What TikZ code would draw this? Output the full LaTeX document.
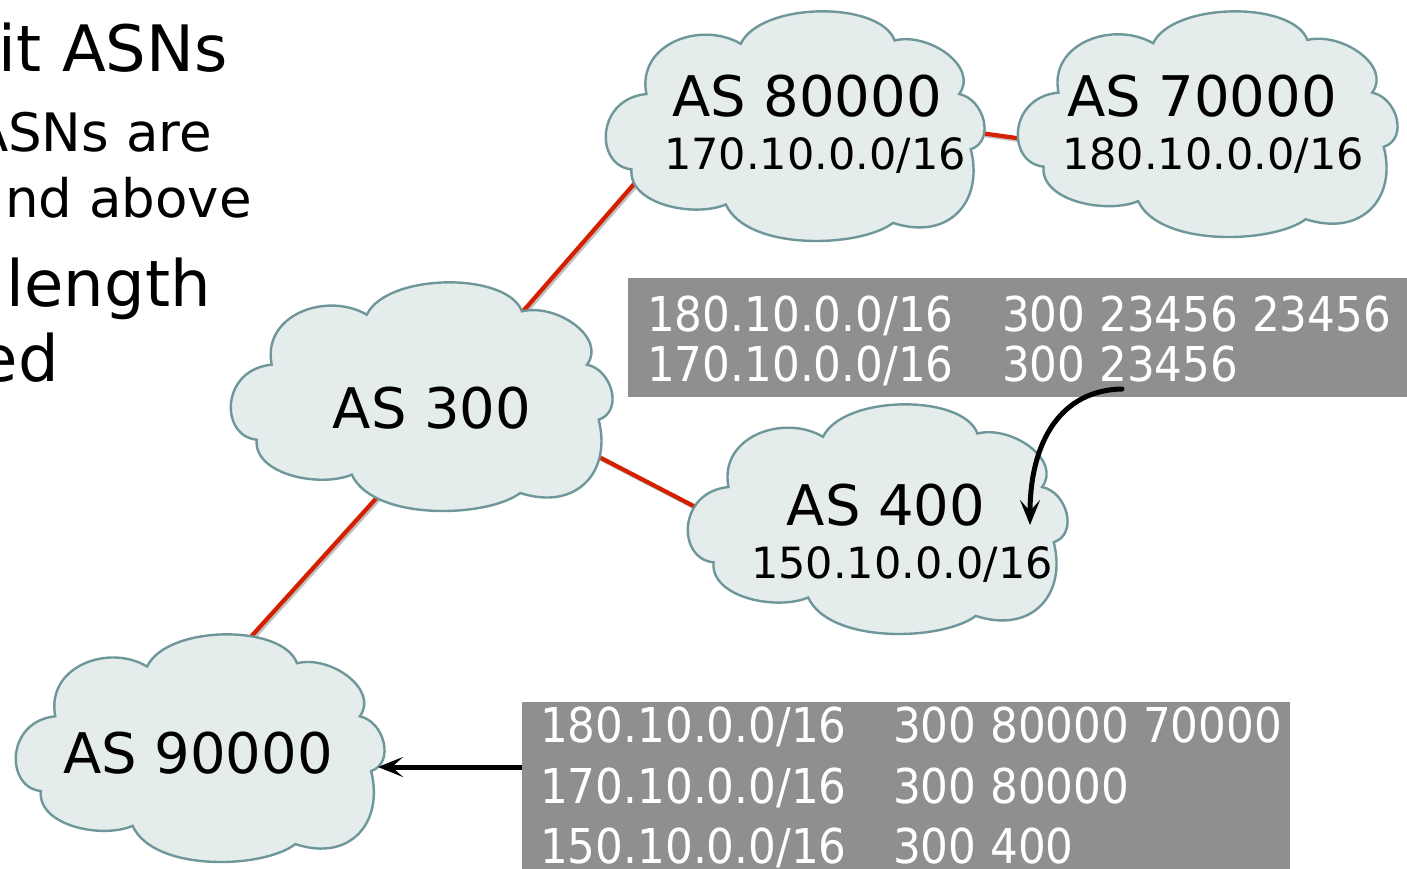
\documentclass[tikz,border=0pt]{standalone}
\usepackage{fontspec}
\setmainfont{DejaVu Sans}
\newfontfamily\condfont[FakeStretch=0.91]{DejaVu Sans}
\usetikzlibrary{shapes.geometric,arrows.meta,backgrounds}
\definecolor{cloudfill}{HTML}{E4ECEC}
\definecolor{clouddraw}{HTML}{6F979B}
\definecolor{linkred}{HTML}{D42000}
\definecolor{boxgray}{HTML}{8F8F8F}
% eight-lobed cloud outline; #1,#2 = top-left corner, #3 x #4 = size
\newcommand\refcloud[4]{%
  \begin{scope}[shift={(#1,#2)}, xscale=#3/1148, yscale=#4/687, shift={(-30,-25)}]
  \path[cloudline] (440,120)
    .. controls (500,-5) and (860,-10) .. (905,110)
    .. controls (1010,85) and (1160,190) .. (1100,270)
    .. controls (1175,285) and (1210,410) .. (1135,435)
    .. controls (1175,590) and (1070,710) .. (900,655)
    .. controls (800,730) and (460,740) .. (395,600)
    .. controls (300,640) and (100,600) .. (110,495)
    .. controls (0,485) and (0,285) .. (155,270)
    .. controls (125,120) and (320,50) .. (440,120)
    -- cycle;
  \end{scope}}
\begin{document}
\begin{tikzpicture}[x=1pt,y=-1pt,
  cloudline/.style={fill=cloudfill, draw=clouddraw, line width=2.4pt, line join=miter},
  cloudbox/.style={ellipse, draw=none, inner sep=0pt},
  link/.style={draw=linkred, line width=4.2pt, shorten <=-30pt, shorten >=-30pt},
  linkshadow/.style={draw=black!25, line width=4.2pt, shorten <=-30pt, shorten >=-30pt, transform canvas={shift={(1.8pt,-1.8pt)}}},
  astext/.style={font=\fontsize{56}{60}\selectfont, anchor=base, inner sep=0pt},
  nettext/.style={font=\fontsize{43}{48}\selectfont, anchor=base, inner sep=0pt},
  hugetext/.style={font=\fontsize{64}{70}\selectfont, anchor=base east, inner sep=0pt},
  bodytext/.style={font=\fontsize{53}{58}\selectfont, anchor=base east, inner sep=0pt},
  tbl/.style={font=\condfont\fontsize{48}{52}\selectfont, text=white, anchor=base west, inner sep=0pt},
  graybox/.style={fill=boxgray, draw=none},
  arr/.style={draw=black, line width=5pt, -{Stealth[length=25pt,width=20pt,inset=11pt]}}]
\useasboundingbox (0,0) rectangle (1407,869);

% slide text (cut off at left)
\node[hugetext] (t1) at (228,72) {it ASNs};
\node[bodytext] (t2) at (212,152) {ASNs are};
\node[bodytext] (t3) at (252,217) {and above};
\node[hugetext] (t4) at (211,306) {length};
\node[hugetext] (t5) at (59,381) {ed};

% cloud anchors (centre and size of each cloud)
\node[cloudbox, minimum width=380pt, minimum height=230pt] (as80000) at (795,127) {};
\node[cloudbox, minimum width=381pt, minimum height=226pt] (as70000) at (1207.5,125) {};
\node[cloudbox, minimum width=383pt, minimum height=229pt] (as300) at (421.5,397.5) {};
\node[cloudbox, minimum width=381pt, minimum height=230pt] (as400) at (877.5,520) {};
\node[cloudbox, minimum width=370pt, minimum height=228pt] (as90000) at (200,749) {};

% links behind the clouds
\begin{scope}[on background layer]
\fill[white] (0,0) rectangle (1407,869);
\draw[linkshadow] (as300.41) -- (as80000.200);
\draw[linkshadow] (as80000.-2) -- (as70000.184);
\draw[linkshadow] (as300.-18) -- (as400.175);
\draw[linkshadow] (as300.244) -- (as90000.66);
\draw[link] (as300.41) -- (as80000.200);
\draw[link] (as80000.-2) -- (as70000.184);
\draw[link] (as300.-18) -- (as400.175);
\draw[link] (as300.244) -- (as90000.66);
\end{scope}

% cloud outlines
\refcloud{605}{12}{380}{230}
\refcloud{1017}{12}{381}{226}
\refcloud{230}{283}{383}{229}
\refcloud{687}{405}{381}{230}
\refcloud{15}{635}{370}{228}

% cloud labels
\node[astext] (l80000) at (807,117) {AS 80000};
\node[nettext] (n80000) at (815,170) {170.10.0.0/16};
\node[astext] (l70000) at (1202,117) {AS 70000};
\node[nettext] (n70000) at (1213,170) {180.10.0.0/16};
\node[astext] (l300) at (432,428) {AS 300};
\node[astext] (l400) at (886,525) {AS 400};
\node[nettext] (n400) at (902,578) {150.10.0.0/16};
\node[astext] (l90000) at (198,773) {AS 90000};

% table boxes
\node[graybox, anchor=north west, minimum width=779pt, minimum height=119pt, inner sep=0pt] (box1) at (628,278) {};
\node[tbl] (b1r1a) at (647,331) {180.10.0.0/16};
\node[tbl] (b1r1b) at (1002,331) {300 23456 23456};
\node[tbl] (b1r2a) at (647,381) {170.10.0.0/16};
\node[tbl] (b1r2b) at (1002,381) {300 23456};

\node[graybox, anchor=north west, minimum width=768pt, minimum height=167pt, inner sep=0pt] (box2) at (522,702) {};
\node[tbl] (b2r1a) at (540,742) {180.10.0.0/16};
\node[tbl] (b2r1b) at (893,742) {300 80000 70000};
\node[tbl] (b2r2a) at (540,803) {170.10.0.0/16};
\node[tbl] (b2r2b) at (893,803) {300 80000};
\node[tbl] (b2r3a) at (540,863) {150.10.0.0/16};
\node[tbl] (b2r3b) at (893,863) {300 400};

% arrows
\coordinate (c1s) at (1122,389);
\coordinate (c1e) at (1030,525);
\draw[arr, line cap=round] (c1s) .. controls (1062,390) and (1030,440) .. (c1e);
\coordinate (c2s) at (522,767);
\coordinate (c2e) at (378,767);
\draw[arr] (c2s) -- (c2e);
\end{tikzpicture}
\end{document}
